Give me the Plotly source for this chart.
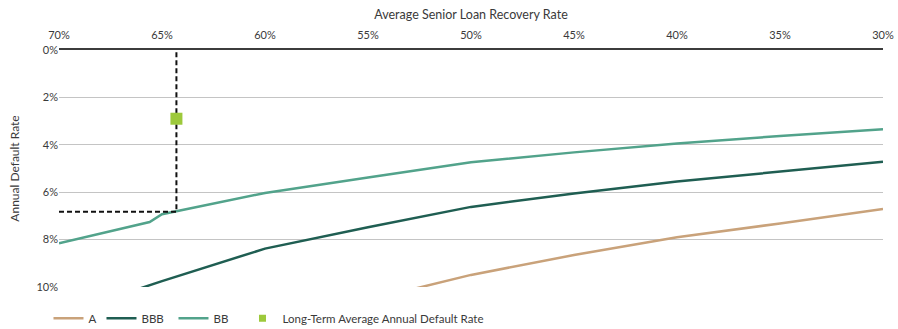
import plotly.graph_objects as go

# Recovery rates (%) and the implied annual default rates (%) for each rating
recovery_a = [55, 50, 45, 40, 35, 30]
default_a = [10.55, 9.49, 8.65, 7.90, 7.32, 6.71]

recovery_bbb = [70, 65, 60, 55, 50, 45, 40, 35, 30]
default_bbb = [11.2, 9.75, 8.38, 7.48, 6.62, 6.05, 5.55, 5.12, 4.71]

recovery_bb = [70, 65.6, 65, 60, 55, 50, 45, 40, 35, 30]
default_bb = [8.15, 7.26, 6.93, 6.03, 5.38, 4.74, 4.32, 3.94, 3.63, 3.34]

# Reference point: long-term average default rate and its break-even recovery
ref_recovery = 64.3
ref_default_on_bb = 6.83
long_term_avg_default = 2.9

x_ticks = [70, 65, 60, 55, 50, 45, 40, 35, 30]
y_ticks = [0, 2, 4, 6, 8, 10]

FONT = "Lato"
TEXT = "#3a3a3a"

fig = go.Figure()

fig.add_trace(go.Scatter(
    x=recovery_a, y=default_a, mode="lines", name="A",
    line=dict(color="#c9a27a", width=2.5),
))
fig.add_trace(go.Scatter(
    x=recovery_bbb, y=default_bbb, mode="lines", name="BBB",
    line=dict(color="#1f5e52", width=2.5), legendwidth=27,
))
fig.add_trace(go.Scatter(
    x=recovery_bb, y=default_bb, mode="lines", name="BB",
    line=dict(color="#52a38b", width=2.5), legendwidth=24,
))

# Dashed guide from the y-axis to the BB curve and up to the top axis
fig.add_trace(go.Scatter(
    x=[x_ticks[0], ref_recovery, ref_recovery],
    y=[ref_default_on_bb, ref_default_on_bb, y_ticks[0]],
    mode="lines", showlegend=False, hoverinfo="skip",
    line=dict(color="#111111", width=2, dash="5px,3px"),
))

# Long-term average annual default rate marker
fig.add_trace(go.Scatter(
    x=[ref_recovery], y=[long_term_avg_default], mode="markers",
    showlegend=False,
    marker=dict(symbol="square", size=12, color="#9dc93b",
                line=dict(width=0)),
))
# Smaller swatch for the legend entry
fig.add_trace(go.Scatter(
    x=[None], y=[None], mode="markers",
    name="Long-Term Average Annual Default Rate",
    marker=dict(symbol="square", size=7, color="#9dc93b"),
))

fig.update_layout(
    width=898, height=329,
    margin=dict(l=59, r=15, t=50, b=42, autoexpand=False),
    paper_bgcolor="white", plot_bgcolor="white",
    font=dict(family=FONT, size=11, color=TEXT),
    legend=dict(
        orientation="h", xref="container", x=0.054, xanchor="left",
        yref="container", y=0.033, yanchor="middle",
        font=dict(family=FONT, size=11.5, color=TEXT),
        itemwidth=30, tracegroupgap=0,
        bgcolor="rgba(0,0,0,0)",
    ),
    xaxis=dict(
        side="top", range=[70, 30], automargin=False,
        tickvals=x_ticks, ticktext=[f"{v}%" for v in x_ticks],
        showgrid=False, zeroline=False,
        showline=True, linecolor="#3c3c3c", linewidth=1.5,
        ticks="outside", ticklen=5, tickcolor="rgba(0,0,0,0)",
        tickfont=dict(family=FONT, size=11, color=TEXT),
        title=dict(text="Average Senior Loan Recovery Rate",
                   font=dict(family=FONT, size=12.5, color=TEXT),
                   standoff=5),
    ),
    yaxis=dict(
        range=[10, 0], automargin=False,
        tickvals=y_ticks, ticktext=[f"{v}%" for v in y_ticks],
        showgrid=True, gridcolor="#c4c4c4", gridwidth=1,
        zeroline=False, showline=False,
        ticks="", ticklen=0,
        tickfont=dict(family=FONT, size=11, color=TEXT),
        title=dict(text="Annual Default Rate",
                   font=dict(family=FONT, size=12, color=TEXT),
                   standoff=14),
    ),
)

fig.write_html("out.html")
